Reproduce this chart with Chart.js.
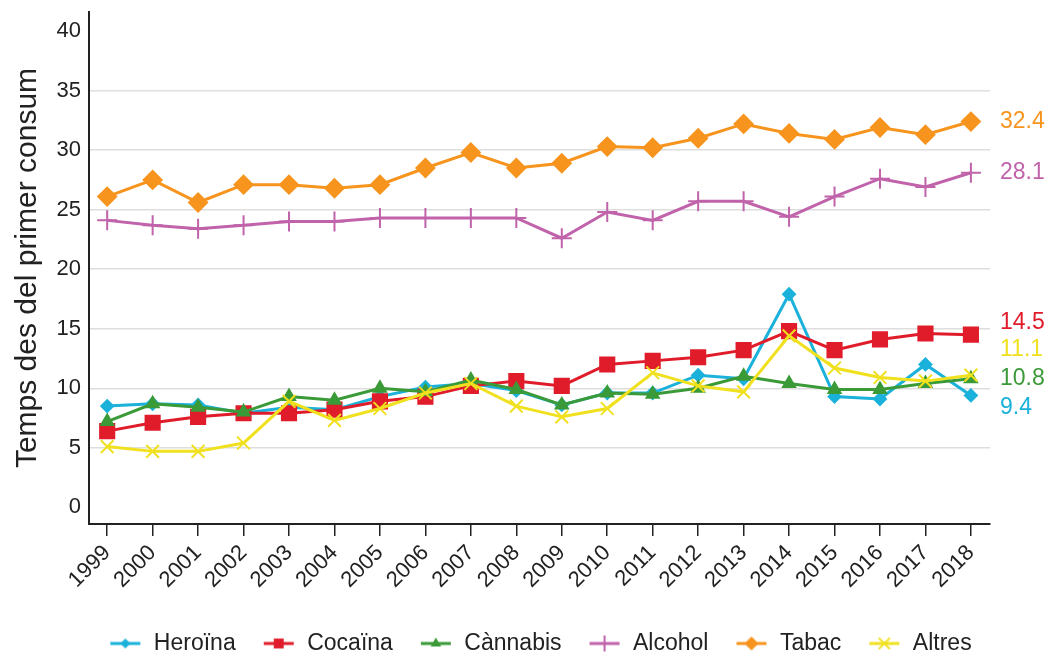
<!DOCTYPE html>
<html>
<head>
<meta charset="utf-8">
<script src="https://cdn.jsdelivr.net/npm/chart.js@4.4.0/dist/chart.umd.min.js"></script>
<style>
  html, body { margin: 0; padding: 0; background: #fff; }
  #wrap { width: 1051px; height: 657px; position: relative; }
</style>
</head>
<body>
<div id="wrap"><canvas id="consumChart"></canvas></div>
<script>
const years = [1999, 2000, 2001, 2002, 2003, 2004, 2005, 2006, 2007, 2008,
    2009, 2010, 2011, 2012, 2013, 2014, 2015, 2016, 2017, 2018];
const heroina  = [8.5, 8.7, 8.6, 7.9, 8.4, 8.2, 9.3, 10.1, 10.4, 9.8, 8.6, 9.6, 9.6, 11.1, 10.8, 17.9, 9.3, 9.1, 12.0, 9.4];
const cocaina  = [6.4, 7.1, 7.6, 7.9, 7.9, 8.2, 8.9, 9.3, 10.2, 10.6, 10.2, 12.0, 12.3, 12.6, 13.2, 14.8, 13.2, 14.1, 14.6, 14.5];
const cannabis = [7.2, 8.7, 8.4, 8.0, 9.3, 9.0, 10.0, 9.7, 10.7, 9.9, 8.6, 9.6, 9.5, 10.0, 11.0, 10.4, 9.9, 9.9, 10.4, 10.8];
const alcohol  = [24.1, 23.7, 23.4, 23.7, 24.0, 24.0, 24.3, 24.3, 24.3, 24.3, 22.6, 24.8, 24.1, 25.7, 25.7, 24.4, 26.1, 27.6, 26.9, 28.1];
const tabac    = [26.1, 27.5, 25.6, 27.1, 27.1, 26.8, 27.1, 28.5, 29.8, 28.5, 28.9, 30.3, 30.2, 31.0, 32.2, 31.4, 30.9, 31.9, 31.3, 32.4];
const altres   = [5.1, 4.7, 4.7, 5.4, 8.9, 7.3, 8.3, 9.6, 10.4, 8.5, 7.6, 8.3, 11.3, 10.2, 9.7, 14.4, 11.7, 10.9, 10.6, 11.1];
const yTicks = [0, 5, 10, 15, 20, 25, 30, 35, 40];

const FONT = '"Liberation Sans", Arial, sans-serif';

// marker for the legend icons (line + point)
function drawMarker(ctx, style, x, y, r) {
    ctx.beginPath();
    if (style === 'rectRot') {
        ctx.moveTo(x, y - r); ctx.lineTo(x + r, y); ctx.lineTo(x, y + r); ctx.lineTo(x - r, y);
        ctx.closePath(); ctx.fill();
    } else if (style === 'rect') {
        const s = r * Math.SQRT1_2;
        ctx.fillRect(x - s, y - s, 2 * s, 2 * s);
    } else if (style === 'triangle') {
        ctx.moveTo(x, y - r); ctx.lineTo(x + r * 0.87, y + r * 0.5); ctx.lineTo(x - r * 0.87, y + r * 0.5);
        ctx.closePath(); ctx.fill();
    } else if (style === 'cross') {
        ctx.moveTo(x, y - r); ctx.lineTo(x, y + r); ctx.moveTo(x - r, y); ctx.lineTo(x + r, y); ctx.stroke();
    } else if (style === 'crossRot') {
        const d = r * 0.707;
        ctx.moveTo(x - d, y - d); ctx.lineTo(x + d, y + d); ctx.moveTo(x + d, y - d); ctx.lineTo(x - d, y + d); ctx.stroke();
    }
}

function legendIcon(color, style, r) {
    const c = document.createElement('canvas');
    c.width = 54; c.height = 20;
    const g = c.getContext('2d');
    g.strokeStyle = color; g.fillStyle = color; g.lineWidth = 3;
    g.beginPath(); g.moveTo(22, 10); g.lineTo(52, 10); g.stroke();
    g.lineWidth = 2;
    drawMarker(g, style, 37, 10, r);
    return c;
}

function series(label, data, color, style, radius, iconRadius, order) {
    return {
        label: label,
        data: data,
        borderColor: color,
        backgroundColor: color,
        pointBackgroundColor: color,
        pointBorderColor: color,
        pointStyle: style,
        pointRadius: radius,
        pointBorderWidth: 2,
        borderWidth: 3,
        tension: 0,
        order: order,
        icon: legendIcon(color, style, iconRadius)
    };
}

// value labels at the right end of each line
const endLabels = {
    id: 'endLabels',
    afterDatasetsDraw(chart) {
        const ctx = chart.ctx;
        const nudge = [12, -12, 0, 0, 0, -26];
        chart.data.datasets.forEach((ds, i) => {
            const meta = chart.getDatasetMeta(i);
            const pt = meta.data[meta.data.length - 1];
            ctx.save();
            ctx.font = '23px ' + FONT;
            ctx.fillStyle = ds.borderColor;
            ctx.textBaseline = 'middle';
            ctx.fillText(ds.data[ds.data.length - 1].toFixed(1), chart.chartArea.right + 10, pt.y + nudge[i]);
            ctx.restore();
        });
    }
};

// nudge the legend row a little right and down
const legendShift = {
    id: 'legendShift',
    afterLayout(chart) {
        const lg = chart.legend;
        if (!lg) return;
        lg.left += 30; lg.right += 30;
        lg.top += 8; lg.bottom += 8;
    }
};

const ctx = document.getElementById('consumChart');
new Chart(ctx, {
    type: 'line',
    data: {
        labels: years,
        datasets: [
            series('Heroïna', heroina, '#1ab1da', 'rectRot', 6, 5, 5),
            series('Cocaïna', cocaina, '#e01c2b', 'rect', 10, 7, 4),
            series('Cànnabis', cannabis, '#3b9a38', 'triangle', 7, 6, 3),
            series('Alcohol', alcohol, '#c063aa', 'cross', 10, 8, 2),
            series('Tabac', tabac, '#f7941e', 'rectRot', 9, 7, 1),
            series('Altres', altres, '#f0e01e', 'crossRot', 9, 8, 0)
        ]
    },
    options: {
        responsive: true,
        maintainAspectRatio: false,
        animation: false,
        layout: { padding: { top: 12, right: 61, left: 10, bottom: 0 } },
        plugins: {
            legend: {
                position: 'bottom',
                labels: {
                    usePointStyle: true,
                    pointStyleWidth: 54,
                    padding: 6,
                    color: '#222',
                    font: { family: FONT, size: 23 },
                    generateLabels(chart) {
                        return chart.data.datasets.map((ds, i) => ({
                            text: ds.label,
                            pointStyle: ds.icon,
                            fillStyle: ds.borderColor,
                            strokeStyle: ds.borderColor,
                            fontColor: '#222',
                            lineWidth: 0,
                            hidden: false,
                            datasetIndex: i
                        }));
                    }
                }
            },
            tooltip: { enabled: false }
        },
        scales: {
            x: {
                type: 'linear',
                min: 1998.6,
                max: 2018.42,
                afterBuildTicks(scale) { scale.ticks = years.map(v => ({ value: v })); },
                afterFit(scale) { scale.height = 94; scale.paddingLeft = 0; scale.paddingRight = 0; },
                border: { color: '#222', width: 2 },
                grid: { drawOnChartArea: false, drawTicks: true, tickLength: 12, color: '#222', lineWidth: 1.5 },
                ticks: {
                    autoSkip: false,
                    minRotation: 45,
                    maxRotation: 45,
                    padding: 4,
                    color: '#222',
                    font: { family: FONT, size: 22 },
                    callback: v => String(v)
                }
            },
            y: {
                min: -1.4,
                max: 41.6,
                afterBuildTicks(scale) { scale.ticks = yTicks.map(v => ({ value: v })); },
                afterFit(scale) { scale.width = 79; scale.paddingTop = 0; scale.paddingBottom = 0; },
                border: { color: '#222', width: 2 },
                grid: {
                    drawTicks: false,
                    lineWidth: 1.5,
                    color: c => (c.tick && c.tick.value > 0 && c.tick.value < 40) ? '#dedede' : 'rgba(0,0,0,0)'
                },
                ticks: { padding: 8, color: '#222', font: { family: FONT, size: 22 } },
                title: {
                    display: true,
                    text: 'Temps des del primer consum',
                    color: '#222',
                    font: { family: FONT, size: 30 },
                    padding: { top: 0, bottom: 0 }
                }
            }
        }
    },
    plugins: [endLabels, legendShift]
});
</script>
</body>
</html>
